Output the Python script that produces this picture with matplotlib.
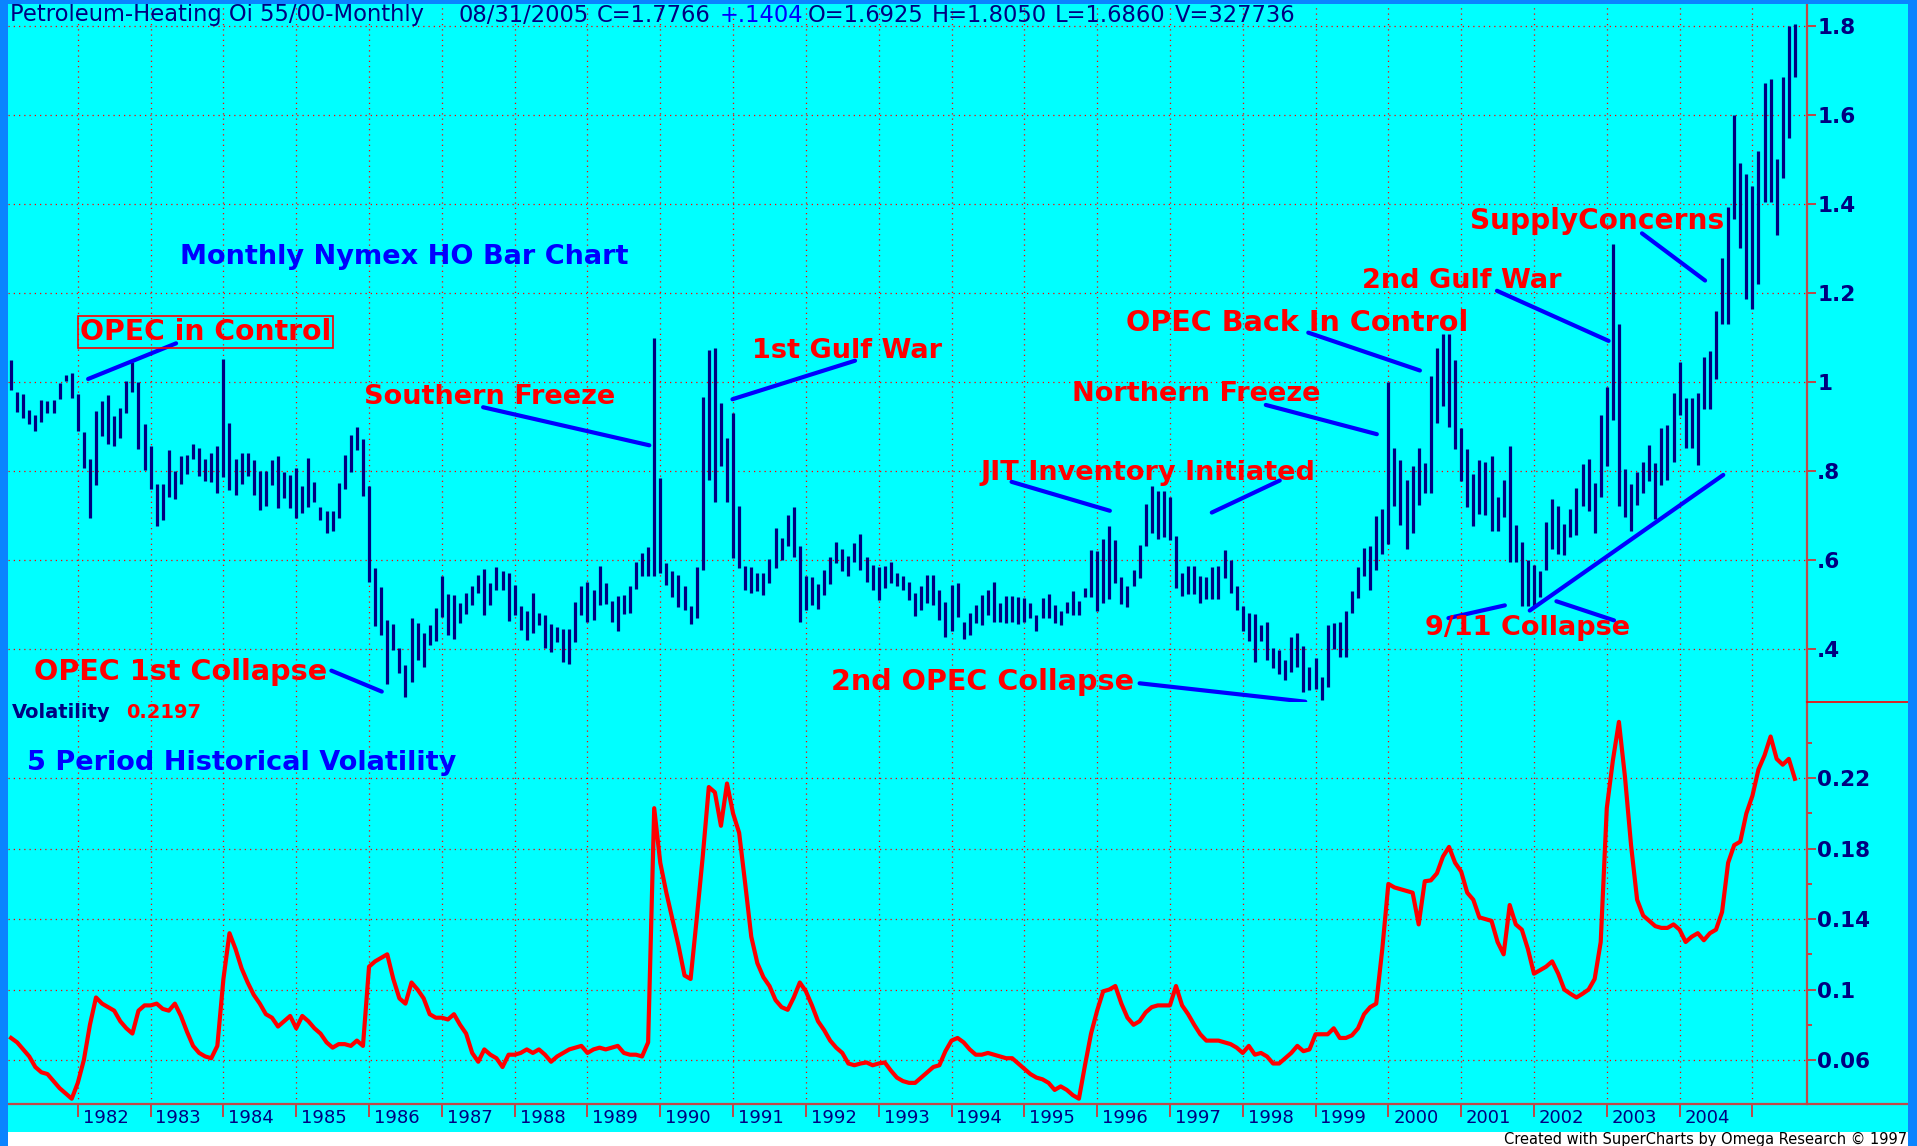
import numpy as np
import pandas as pd
import matplotlib
matplotlib.use("Agg")
import matplotlib.pyplot as plt
from matplotlib.patches import Rectangle
from matplotlib.lines import Line2D
import matplotlib.transforms as mtransforms
from matplotlib import font_manager

# ---------------- data (monthly, Feb 1981 .. Aug 2005) ----------------
start_month = "1981-02-01"

highs = [
    1.05, 0.977, 0.974, 0.937, 0.927, 0.959, 0.957, 0.96, 0.998, 1.017, 1.02,                 # 1981
    0.974, 0.888, 0.827, 0.935, 0.957, 0.972, 0.923, 0.942, 1.002, 1.044, 1.0, 0.905,       # 1982
    0.856, 0.772, 0.772, 0.847, 0.8, 0.833, 0.837, 0.86, 0.852, 0.827, 0.84, 0.856,         # 1983
    1.052, 0.907, 0.827, 0.841, 0.841, 0.826, 0.8, 0.8, 0.826, 0.835, 0.797, 0.792,         # 1984
    0.807, 0.766, 0.83, 0.775, 0.72, 0.71, 0.71, 0.773, 0.837, 0.882, 0.9, 0.872,           # 1985
    0.767, 0.582, 0.54, 0.466, 0.457, 0.402, 0.365, 0.47, 0.46, 0.436, 0.455, 0.492,        # 1986
    0.565, 0.524, 0.522, 0.503, 0.526, 0.541, 0.567, 0.58, 0.548, 0.584, 0.575, 0.571,      # 1987
    0.545, 0.497, 0.487, 0.527, 0.482, 0.477, 0.457, 0.449, 0.445, 0.445, 0.507, 0.541,     # 1988
    0.55, 0.532, 0.587, 0.548, 0.509, 0.52, 0.522, 0.542, 0.595, 0.616, 0.629, 1.1,         # 1989
    0.785, 0.593, 0.575, 0.567, 0.541, 0.497, 0.584, 0.967, 1.072, 1.077, 0.952, 0.875,     # 1990
    0.93, 0.722, 0.586, 0.584, 0.571, 0.571, 0.602, 0.672, 0.65, 0.702, 0.719, 0.631,       # 1991
    0.565, 0.562, 0.547, 0.578, 0.607, 0.642, 0.625, 0.61, 0.638, 0.659, 0.607, 0.59,       # 1992
    0.584, 0.587, 0.597, 0.571, 0.565, 0.552, 0.527, 0.542, 0.567, 0.567, 0.532, 0.507,     # 1993
    0.545, 0.548, 0.462, 0.482, 0.5, 0.522, 0.533, 0.552, 0.505, 0.52, 0.52, 0.517,         # 1994
    0.515, 0.503, 0.477, 0.515, 0.524, 0.5, 0.487, 0.507, 0.53, 0.509, 0.537, 0.623,        # 1995
    0.62, 0.647, 0.677, 0.646, 0.563, 0.542, 0.578, 0.635, 0.727, 0.766, 0.755, 0.755,      # 1996
    0.743, 0.655, 0.572, 0.587, 0.586, 0.565, 0.562, 0.584, 0.586, 0.623, 0.6, 0.541,       # 1997
    0.497, 0.481, 0.479, 0.455, 0.462, 0.402, 0.398, 0.376, 0.428, 0.437, 0.407, 0.361,     # 1998
    0.38, 0.338, 0.455, 0.46, 0.462, 0.485, 0.53, 0.584, 0.628, 0.632, 0.699, 0.714,        # 1999
    1.001, 0.851, 0.825, 0.781, 0.811, 0.852, 0.818, 1.014, 1.077, 1.108, 1.108, 1.049,     # 2000
    0.896, 0.849, 0.793, 0.825, 0.821, 0.833, 0.742, 0.781, 0.856, 0.679, 0.641, 0.6,       # 2001
    0.59, 0.575, 0.686, 0.737, 0.722, 0.681, 0.714, 0.763, 0.815, 0.828, 0.773, 0.925,      # 2002
    0.988, 1.311, 1.13, 0.805, 0.771, 0.798, 0.821, 0.859, 0.818, 0.896, 0.904, 0.976,      # 2003
    1.045, 0.965, 0.965, 0.976, 1.057, 1.069, 1.16, 1.278, 1.394, 1.6, 1.491, 1.468,        # 2004
    1.44, 1.519, 1.671, 1.681, 1.502, 1.684, 1.8, 1.805,                                    # 2005
]

lows = [
    0.983, 0.932, 0.92, 0.905, 0.891, 0.91, 0.93, 0.93, 0.961, 1.002, 0.964,
    0.891, 0.807, 0.694, 0.769, 0.878, 0.86, 0.857, 0.875, 0.931, 0.977, 0.85, 0.802,
    0.76, 0.676, 0.69, 0.743, 0.737, 0.772, 0.794, 0.827, 0.79, 0.777, 0.775, 0.752,
    0.787, 0.757, 0.747, 0.772, 0.79, 0.747, 0.713, 0.722, 0.77, 0.717, 0.74, 0.717,
    0.695, 0.706, 0.72, 0.73, 0.69, 0.662, 0.665, 0.695, 0.76, 0.797, 0.848, 0.745,
    0.552, 0.452, 0.432, 0.322, 0.398, 0.347, 0.293, 0.327, 0.376, 0.36, 0.41, 0.419,
    0.473, 0.432, 0.422, 0.458, 0.48, 0.5, 0.526, 0.477, 0.5, 0.533, 0.532, 0.464,
    0.477, 0.443, 0.421, 0.436, 0.455, 0.402, 0.395, 0.417, 0.372, 0.367, 0.417, 0.477,
    0.462, 0.466, 0.5, 0.502, 0.462, 0.442, 0.479, 0.481, 0.535, 0.565, 0.565, 0.565,
    0.571, 0.545, 0.518, 0.496, 0.488, 0.457, 0.47, 0.577, 0.779, 0.73, 0.811, 0.73,
    0.605, 0.582, 0.533, 0.527, 0.53, 0.522, 0.548, 0.582, 0.601, 0.631, 0.608, 0.462,
    0.488, 0.5, 0.49, 0.522, 0.547, 0.593, 0.575, 0.565, 0.597, 0.577, 0.552, 0.533,
    0.511, 0.537, 0.548, 0.541, 0.532, 0.511, 0.475, 0.488, 0.503, 0.5, 0.466, 0.428,
    0.44, 0.473, 0.422, 0.432, 0.458, 0.454, 0.477, 0.462, 0.462, 0.46, 0.462, 0.457,
    0.462, 0.47, 0.44, 0.47, 0.47, 0.458, 0.455, 0.481, 0.477, 0.477, 0.517, 0.518,
    0.487, 0.503, 0.512, 0.548, 0.502, 0.494, 0.541, 0.56, 0.632, 0.661, 0.647, 0.653,
    0.646, 0.537, 0.52, 0.524, 0.524, 0.503, 0.512, 0.512, 0.512, 0.56, 0.526, 0.488,
    0.44, 0.419, 0.372, 0.419, 0.376, 0.357, 0.344, 0.331, 0.35, 0.361, 0.305, 0.308,
    0.31, 0.286, 0.316, 0.4, 0.382, 0.382, 0.481, 0.515, 0.564, 0.534, 0.578, 0.615,
    0.636, 0.722, 0.679, 0.625, 0.661, 0.724, 0.752, 0.752, 0.907, 0.946, 0.9, 0.849,
    0.778, 0.72, 0.676, 0.704, 0.702, 0.666, 0.666, 0.696, 0.595, 0.595, 0.498, 0.498,
    0.498, 0.517, 0.578, 0.625, 0.615, 0.612, 0.653, 0.656, 0.722, 0.711, 0.661, 0.742,
    0.811, 0.915, 0.722, 0.696, 0.666, 0.724, 0.75, 0.778, 0.693, 0.768, 0.781, 0.821,
    0.925, 0.852, 0.852, 0.813, 0.94, 0.94, 1.008, 1.13, 1.13, 1.366, 1.3, 1.187,
    1.163, 1.221, 1.404, 1.404, 1.331, 1.458, 1.549, 1.686,
]

volatility = [
    0.0725, 0.070, 0.066, 0.062, 0.056, 0.053, 0.052, 0.048, 0.044, 0.041, 0.038,
    0.047, 0.060, 0.080, 0.0955, 0.092, 0.090, 0.088, 0.082, 0.078, 0.075, 0.088, 0.091,
    0.091, 0.092, 0.089, 0.088, 0.092, 0.085, 0.076, 0.068, 0.064, 0.062, 0.061, 0.068,
    0.106, 0.132, 0.123, 0.112, 0.104, 0.097, 0.092, 0.086, 0.084, 0.079, 0.082, 0.085,
    0.078, 0.085, 0.082, 0.078, 0.075, 0.070, 0.067, 0.069, 0.069, 0.068, 0.071, 0.068,
    0.113, 0.116, 0.118, 0.120, 0.106, 0.095, 0.092, 0.104, 0.100, 0.095, 0.086, 0.084,
    0.084, 0.083, 0.086, 0.080, 0.075, 0.064, 0.059, 0.066, 0.063, 0.061, 0.056, 0.063,
    0.063, 0.064, 0.066, 0.064, 0.066, 0.063, 0.059, 0.062, 0.064, 0.066, 0.067, 0.068,
    0.064, 0.066, 0.067, 0.066, 0.067, 0.068, 0.064, 0.063, 0.063, 0.062, 0.070, 0.203,
    0.172, 0.155, 0.140, 0.125, 0.108, 0.106, 0.140, 0.1755, 0.215, 0.212, 0.193, 0.217,
    0.200, 0.189, 0.160, 0.130, 0.115, 0.107, 0.102, 0.094, 0.090, 0.0885, 0.0955, 0.104,
    0.099, 0.091, 0.082, 0.077, 0.071, 0.067, 0.064, 0.058, 0.057, 0.058, 0.0586, 0.057,
    0.058, 0.0586, 0.054, 0.050, 0.048, 0.047, 0.047, 0.050, 0.053, 0.056, 0.057, 0.065,
    0.071, 0.0725, 0.070, 0.066, 0.063, 0.063, 0.064, 0.063, 0.062, 0.061, 0.061, 0.058,
    0.055, 0.052, 0.050, 0.049, 0.047, 0.043, 0.045, 0.043, 0.040, 0.038, 0.057, 0.075,
    0.088, 0.099, 0.100, 0.102, 0.092, 0.084, 0.080, 0.082, 0.087, 0.090, 0.091, 0.091,
    0.091, 0.102, 0.091, 0.086, 0.080, 0.0746, 0.071, 0.071, 0.071, 0.070, 0.069, 0.067,
    0.064, 0.068, 0.063, 0.064, 0.062, 0.058, 0.058, 0.061, 0.064, 0.068, 0.065, 0.066,
    0.0746, 0.0746, 0.0746, 0.078, 0.0725, 0.0725, 0.074, 0.078, 0.086, 0.090, 0.092, 0.123,
    0.160, 0.158, 0.157, 0.156, 0.155, 0.137, 0.1615, 0.162, 0.166, 0.1755, 0.181, 0.172,
    0.167, 0.155, 0.151, 0.141, 0.140, 0.139, 0.127, 0.120, 0.148, 0.137, 0.134, 0.123,
    0.109, 0.111, 0.113, 0.116, 0.109, 0.100, 0.0976, 0.0955, 0.0976, 0.100, 0.106, 0.127,
    0.203, 0.230, 0.252, 0.2207, 0.182, 0.151, 0.142, 0.139, 0.136, 0.135, 0.135, 0.137,
    0.134, 0.127, 0.130, 0.132, 0.128, 0.132, 0.134, 0.144, 0.172, 0.182, 0.184, 0.200,
    0.210, 0.225, 0.233, 0.2437, 0.231, 0.2277, 0.231, 0.2197,
]

price_ticks = [0.4, 0.6, 0.8, 1.0, 1.2, 1.4, 1.6, 1.8]
price_tick_labels = [".4", ".6", ".8", "1", "1.2", "1.4", "1.6", "1.8"]
vol_ticks = [0.06, 0.10, 0.14, 0.18, 0.22]
vol_tick_labels = ["0.06", "0.1", "0.14", "0.18", "0.22"]
vol_minor_ticks = [0.08, 0.12, 0.16, 0.20, 0.24]
year_labels = [str(y) for y in range(1982, 2005)]

title_parts = [
    ("Petroleum-Heating Oi 55/00-Monthly", 10, "#000080"),
    ("08/31/2005", 459, "#000080"),
    ("C=1.7766", 597, "#000080"),
    ("+.1404", 720, "#0000FF"),
    ("O=1.6925", 808, "#000080"),
    ("H=1.8050", 932, "#000080"),
    ("L=1.6860", 1055, "#000080"),
    ("V=327736", 1175, "#000080"),
]

# ---------------- layout ----------------
W, H = 1917, 1146
CYAN = "#00FFFF"
NAVY = "#000080"
RED = "#FF0000"
AXC = "#C04848"
BLUE = "#0000FF"
BORDER = "#0A84FF"

def fx(px):
    return px / W

def fy(py):
    return 1 - py / H

available = {f.name for f in font_manager.fontManager.ttflist}
if "Liberation Sans Narrow" in available:
    year_font, year_size = "Liberation Sans Narrow", 16.5
else:
    year_font, year_size = "DejaVu Sans", 13

fig = plt.figure(figsize=(W / 100, H / 100), dpi=100, facecolor=CYAN)

dates = pd.date_range(start_month, periods=len(highs), freq="MS")
xm = np.asarray((dates.year - 1982) * 12 + (dates.month - 1), dtype=float)

jan82_px, month_px = 77.8, 6.0674
xlim = ((8 - jan82_px) / month_px, (1807 - jan82_px) / month_px)

ax1 = fig.add_axes([fx(8), fy(702), fx(1807) - fx(8), fy(4) - fy(702)], facecolor=CYAN)
ax2 = fig.add_axes([fx(8), fy(1104), fx(1807) - fx(8), fy(702) - fy(1104)], facecolor=CYAN)

ax1.set_xlim(*xlim)
ax2.set_xlim(*xlim)
ax1.set_ylim(0.2816, 1.849)
ax2.set_ylim(0.035, 0.2633)

dot = (0, (1, 3.2))
year_months = [12 * k for k in range(0, 24)]
for ax in (ax1, ax2):
    for s in ax.spines.values():
        s.set_visible(False)
    ax.spines["right"].set_visible(True)
    ax.spines["right"].set_color(AXC)
    ax.spines["right"].set_linewidth(1.6)
    for m in year_months:
        ax.axvline(m, color=RED, lw=0.9, ls=dot, zorder=1)
for p in price_ticks:
    ax1.axhline(p, color=RED, lw=0.9, ls=dot, zorder=1)
for v in vol_ticks:
    ax2.axhline(v, color=RED, lw=0.9, ls=dot, zorder=1)

# price bars
ax1.vlines(xm, lows, highs, color=NAVY, lw=2.3, zorder=3)
# volatility
ax2.plot(xm, volatility, color=RED, lw=3.0, solid_joinstyle="round", zorder=3)

# ticks
ax1.yaxis.tick_right()
ax1.set_yticks(price_ticks)
ax1.set_yticklabels(price_tick_labels)
ax1.set_xticks([])
ax1.tick_params(axis="y", direction="out", length=6.5, width=1.4, color=AXC,
                labelcolor=NAVY, labelsize=15.5, pad=0.8)
ax2.yaxis.tick_right()
ax2.set_yticks(vol_ticks)
ax2.set_yticklabels(vol_tick_labels)
ax2.set_yticks(vol_minor_ticks, minor=True)
ax2.tick_params(axis="y", which="major", direction="out", length=6.5, width=1.4, color=AXC,
                labelcolor=NAVY, labelsize=15.5, pad=0.8)
ax2.tick_params(axis="y", which="minor", direction="out", length=3.5, width=1.4, color=AXC)
ax2.set_xticks(year_months)
ax2.tick_params(axis="x", direction="out", length=9, width=1.4, color=AXC, labelbottom=False)
for lbl in ax1.get_yticklabels() + ax2.get_yticklabels():
    lbl.set_fontweight("bold")

trans = mtransforms.blended_transform_factory(ax2.transData, fig.transFigure)
for m, lab in zip(year_months, year_labels):
    ax2.text(m + 0.8, fy(1118), lab, transform=trans, ha="left", va="center",
             fontsize=year_size, family=year_font, color=NAVY, clip_on=False)

# frame lines and borders
fig.add_artist(Line2D([fx(8), fx(1908)], [fy(1104)] * 2, color=AXC, lw=1.6))
fig.add_artist(Line2D([fx(1807), fx(1908)], [fy(702)] * 2, color=RED, lw=1.2))
fig.add_artist(Rectangle((0, 0), 1, fy(1132), transform=fig.transFigure,
                         facecolor="white", edgecolor="none", zorder=-1))
fig.add_artist(Rectangle((0, 0), fx(8), 1, transform=fig.transFigure,
                         facecolor=BORDER, edgecolor="none", zorder=5))
fig.add_artist(Rectangle((fx(1908), 0), 1 - fx(1908), 1, transform=fig.transFigure,
                         facecolor=BORDER, edgecolor="none", zorder=5))
fig.add_artist(Rectangle((0, fy(4)), 1, 4 / H, transform=fig.transFigure,
                         facecolor=BORDER, edgecolor="none", zorder=5))

# title line
for txt, px_, col in title_parts:
    fig.text(fx(px_), fy(15), txt, ha="left", va="center", fontsize=16.3, color=col)

# annotation pointer lines (month index, price)
pointers = [
    ((1.7, 1.007), (16.2, 1.087)),
    ((66.8, 0.9435), (94.2, 0.858)),
    ((107.9, 0.9615), (128.1, 1.048)),
    ((41.8, 0.352), (50.1, 0.305)),
    ((202.8, 1.111), (221.2, 1.026)),
    ((195.8, 0.9487), (214.1, 0.883)),
    ((153.9, 0.776), (170.1, 0.711)),
    ((186.9, 0.707), (198.1, 0.779)),
    ((175.0, 0.3236), (202.3, 0.2823)),
    ((233.9, 1.205), (252.3, 1.0925)),
    ((257.8, 1.334), (268.2, 1.228)),
    ((225.9, 0.470), (235.2, 0.4986)),
    ((243.7, 0.5078), (253.2, 0.4649)),
    ((239.3, 0.487), (271.2, 0.7915)),
]
for (xa, ya), (xb, yb) in pointers:
    ax1.plot([xa, xb], [ya, yb], color=BLUE, lw=3.0, solid_capstyle="round",
             zorder=4, clip_on=False)

labels = [
    ("OPEC in Control", 80, 331.5, RED, 20.3),
    ("Monthly Nymex HO Bar Chart", 180, 257, BLUE, 19.5),
    ("Southern Freeze", 364, 397, RED, 19.5),
    ("1st Gulf War", 752, 351, RED, 19.5),
    ("OPEC 1st Collapse", 34, 671.5, RED, 20.6),
    ("OPEC Back In Control", 1126, 323, RED, 20.6),
    ("Northern Freeze", 1072, 394, RED, 19.5),
    ("JIT Inventory Initiated", 980, 473, RED, 19.5),
    ("2nd OPEC Collapse", 831, 682, RED, 20.6),
    ("2nd Gulf War", 1362, 281, RED, 19.5),
    ("SupplyConcerns", 1470, 221, RED, 20.2),
    ("9/11 Collapse", 1425, 628, RED, 19.5),
    ("5 Period Historical Volatility", 27, 763, BLUE, 19.5),
]
for txt, px_, py_, col, fs in labels:
    fig.text(fx(px_), fy(py_), txt, ha="left", va="center", fontsize=fs,
             fontweight="bold", color=col, zorder=6)

fig.add_artist(Rectangle((fx(77.7), fy(347.7)), fx(332.7) - fx(77.7), fy(315.7) - fy(347.7),
                         transform=fig.transFigure, facecolor="none", edgecolor=RED,
                         lw=1.2, zorder=6))

fig.text(fx(12), fy(713), "Volatility", ha="left", va="center", fontsize=14,
         fontweight="bold", color=NAVY)
fig.text(fx(126), fy(713), "0.2197", ha="left", va="center", fontsize=14,
         fontweight="bold", color=RED)

fig.text(fx(1907), fy(1139), "Created with SuperCharts by Omega Research \u00a9 1997",
         ha="right", va="center", fontsize=10.5, color="black")

fig.savefig("out.png", dpi=100, facecolor=CYAN)
